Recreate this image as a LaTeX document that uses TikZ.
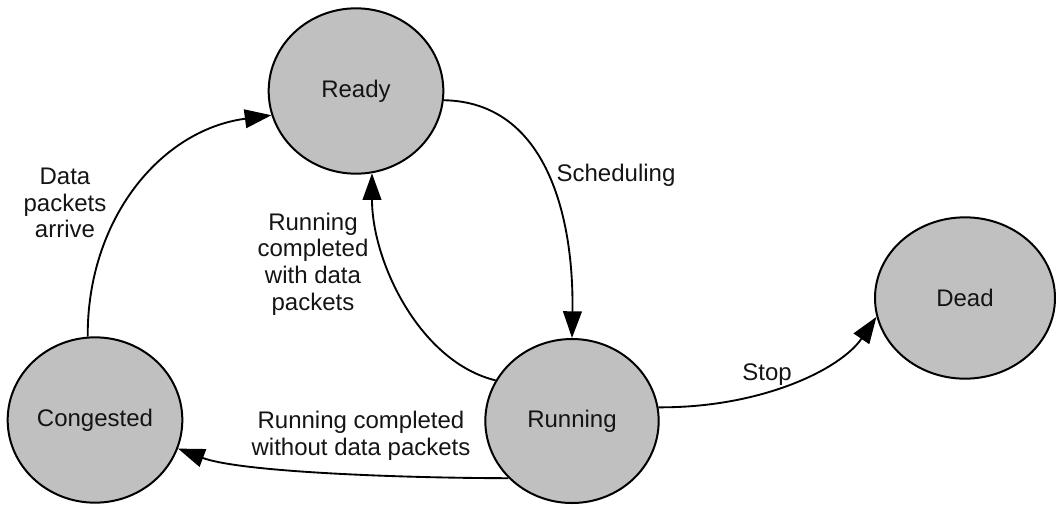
\documentclass[tikz,border=0pt]{standalone}
\usepackage{fontspec}
\setmainfont{Liberation Sans}
\usetikzlibrary{shapes.geometric,arrows.meta}
\definecolor{statefill}{HTML}{C0C0C0}
\definecolor{inkblack}{HTML}{141414}
\begin{document}
\begin{tikzpicture}[x=0.75pt,y=-0.75pt,
  state/.style={ellipse,draw=black,line width=1.5pt,fill=statefill,inner sep=0pt,
    text=inkblack,font=\fontsize{18}{20}\selectfont},
  lbl/.style={align=center,inner sep=0pt,text=inkblack,font=\fontsize{18}{20}\selectfont},
  link/.style={line width=1.4pt,-{Triangle[length=20pt,width=14pt]}}]
\useasboundingbox (0,0) rectangle (1056,504);

% states
\node[state,minimum width=131pt,minimum height=124pt] (ready) at (356,91) {Ready};
\node[state,minimum width=130pt,minimum height=123pt] (running) at (572,421) {Running};
\node[state,minimum width=131pt,minimum height=124pt] (congested) at (95,420) {Congested};
\node[state,minimum width=135pt,minimum height=121pt] (dead) at (965,298) {Dead};

% transitions
\draw[link] (ready.-6) .. controls (548,102) and (574,220) .. (running.90);
\draw[link] (running.152) .. controls (420,362) and (372,262) .. (ready.-79);
\draw[link] (running.9) .. controls (760,408) and (840,370) .. (dead.192);
\draw[link] (running.222) .. controls (400,478) and (240,472) .. (congested.-19);
\draw[link] (congested.95) .. controls (87,220) and (160,130) .. (ready.196);

% transition labels
\node[lbl] (lsched) at (616,175) {Scheduling};
\node[lbl] (lstop) at (767,375) {Stop};
\node[lbl] (lwith) at (313,264) {Running\\completed\\with data\\packets};
\node[lbl] (lwithout) at (361,436) {Running completed\\without data packets};
\node[lbl] (larrive) at (65,203) {Data\\packets\\arrive};
\end{tikzpicture}
\end{document}
